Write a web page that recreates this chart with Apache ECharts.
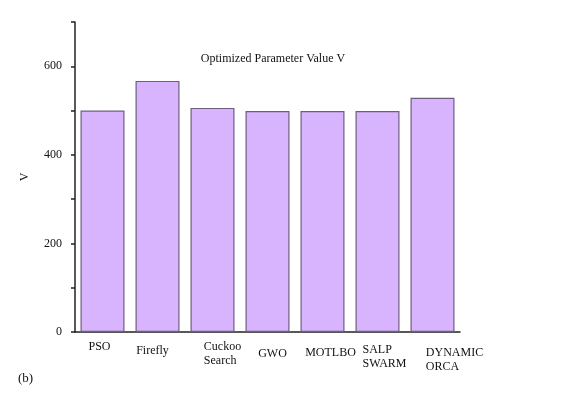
<!DOCTYPE html>
<html>
<head>
<meta charset="utf-8">
<script src="https://cdn.jsdelivr.net/npm/echarts@6/dist/echarts.min.js"></script>
<style>
  html, body { margin: 0; padding: 0; background: #fff; }
  #main { width: 566px; height: 406px; }
</style>
</head>
<body>
<div id="main"></div>
<script>
var categories = ["PSO", "Firefly", "Cuckoo\nSearch", "GWO", "MOTLBO", "SALP\nSWARM", "DYNAMIC\nORCA"];
var values = [500, 567, 506, 499, 499, 499, 529];
var yTicks = [0, 200, 400, 600];

// label nudges to mimic the original figure's ragged label placement [top, right, bottom, left]
var labelPad = [[0, 6, 0, 0], [4, 10, 0, 0], [0, 0, 0, 20], [7, 0, 0, 10], [6, 0, 0, 16], [3, 0, 0, 14], [6, 0, 0, 44]];

var myChart = echarts.init(document.getElementById("main"));

var serif = "Liberation Serif";

myChart.setOption({
  animation: false,
  textStyle: { fontFamily: serif },
  title: {
    text: "Optimized Parameter Value V",
    left: 268,
    top: 48,
    textAlign: "center",
    textStyle: { fontFamily: serif, fontSize: 12, fontWeight: "normal", color: "#111" },
  },
  grid: { left: 75, right: 106, top: 22, bottom: 74 },
  graphic: [
    {
      type: "text",
      left: 18,
      top: 372,
      style: { text: "(b)", font: "13px 'Liberation Serif'", fill: "#111" },
    },
  ],
  xAxis: [
    {
      type: "category",
      data: categories.map(function (c, i) {
        return { value: c, textStyle: { padding: labelPad[i] } };
      }),
      axisLine: { lineStyle: { color: "#222", width: 1.5 } },
      axisTick: { alignWithLabel: true, length: 5, lineStyle: { color: "#222", width: 1.5 } },
      axisLabel: {
        interval: 0,
        margin: 8,
        fontFamily: serif,
        fontSize: 12,
        color: "#111",
        lineHeight: 14,
        align: "center",
        formatter: function (v) {
          return v.split("\n").map(function (l) { return "{l|" + l + "}"; }).join("\n");
        },
        rich: {
          l: { align: "left", fontFamily: serif, fontSize: 12, color: "#111", lineHeight: 14 },
        },
      },
    },
    {
      type: "category",
      position: "bottom",
      data: categories,
      axisLine: { show: false },
      axisTick: { length: 3, lineStyle: { color: "#222", width: 1.2 } },
      axisLabel: { show: false },
    },
  ],
  yAxis: {
    type: "value",
    name: "V",
    nameLocation: "middle",
    nameGap: 44,
    nameRotate: 90,
    nameTextStyle: { fontFamily: serif, fontSize: 12, color: "#111" },
    min: 0,
    max: 700,
    interval: 100,
    axisLine: { show: true, lineStyle: { color: "#222", width: 1.5 } },
    axisTick: { show: true, length: 4, lineStyle: { color: "#222", width: 1.5 } },
    splitLine: { show: false },
    axisLabel: {
      fontFamily: serif,
      fontSize: 12,
      color: "#111",
      margin: 13,
      formatter: function (v) {
        return yTicks.indexOf(v) >= 0 ? String(v) : "";
      },
    },
  },
  series: [
    {
      type: "bar",
      data: values,
      barCategoryGap: "20%",
      itemStyle: { color: "#d8b4fe", borderColor: "#6e5e7e", borderWidth: 1.2 },
    },
  ],
});
</script>
</body>
</html>
